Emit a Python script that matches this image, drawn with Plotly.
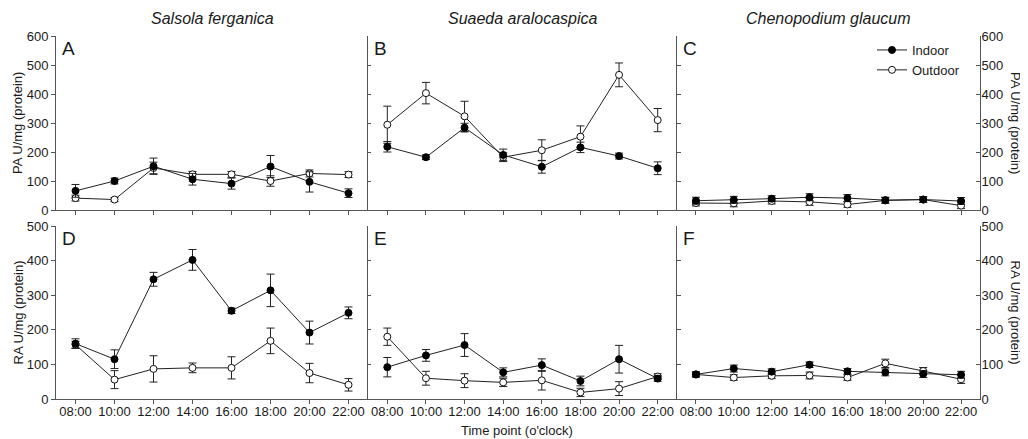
import plotly.graph_objects as go

times = ["08:00", "10:00", "12:00", "14:00", "16:00", "18:00", "20:00", "22:00"]

species = ["Salsola ferganica", "Suaeda aralocaspica", "Chenopodium glaucum"]
panel_letters = ["A", "B", "C", "D", "E", "F"]

# PA (top row)
pa_sf_in = [66, 100, 151, 106, 91, 150, 97, 58]
pa_sf_in_err = [22, 10, 28, 20, 19, 38, 35, 15]
pa_sf_out = [41, 36, 145, 123, 123, 100, 126, 122]
pa_sf_out_err = [10, 7, 20, 10, 10, 18, 12, 10]

pa_sa_in = [218, 182, 284, 190, 149, 216, 186, 144]
pa_sa_in_err = [18, 8, 15, 20, 22, 18, 10, 22]
pa_sa_out = [294, 403, 323, 182, 206, 253, 466, 310]
pa_sa_out_err = [64, 37, 52, 15, 36, 37, 41, 40]

pa_cg_in = [32, 35, 39, 44, 41, 34, 36, 31]
pa_cg_in_err = [12, 12, 10, 12, 12, 10, 10, 12]
pa_cg_out = [24, 23, 31, 28, 19, 33, 36, 15]
pa_cg_out_err = [10, 12, 10, 12, 10, 10, 10, 10]

# RA (bottom row)
ra_sf_in = [160, 115, 346, 402, 255, 314, 192, 249]
ra_sf_in_err = [14, 27, 20, 30, 8, 47, 33, 17]
ra_sf_out = [157, 56, 87, 90, 90, 168, 75, 41]
ra_sf_out_err = [10, 26, 38, 14, 32, 37, 28, 18]

ra_sa_in = [92, 126, 156, 77, 98, 52, 115, 59]
ra_sa_in_err = [28, 17, 33, 13, 18, 14, 40, 8]
ra_sa_out = [180, 60, 53, 48, 54, 19, 30, 65]
ra_sa_out_err = [25, 20, 20, 12, 28, 12, 20, 8]

ra_cg_in = [71, 88, 79, 99, 80, 77, 72, 70]
ra_cg_in_err = [8, 10, 8, 8, 8, 10, 10, 10]
ra_cg_out = [71, 62, 67, 68, 62, 103, 81, 57]
ra_cg_out_err = [6, 8, 8, 10, 8, 12, 10, 12]

panels = [
    (pa_sf_in, pa_sf_in_err, pa_sf_out, pa_sf_out_err),
    (pa_sa_in, pa_sa_in_err, pa_sa_out, pa_sa_out_err),
    (pa_cg_in, pa_cg_in_err, pa_cg_out, pa_cg_out_err),
    (ra_sf_in, ra_sf_in_err, ra_sf_out, ra_sf_out_err),
    (ra_sa_in, ra_sa_in_err, ra_sa_out, ra_sa_out_err),
    (ra_cg_in, ra_cg_in_err, ra_cg_out, ra_cg_out_err),
]

# page body has an 8px margin, so the figure is sized/offset to land on the window
OFF = 8
W, H = 1020, 431
FONT = "Liberation Sans, Arial, sans-serif"
AXC = "#555555"
TXT = "#1a1a1a"

xdom_px = [(56, 368), (368, 677), (677, 980)]
ydom_px = [(36, 210), (226, 399)]

def px_x(x):
    return (x - OFF) / W

def px_y(y):
    return 1 - (y - OFF) / H

def xd(p):
    return [px_x(p[0]), px_x(p[1])]

def yd(p):
    return [px_y(p[1]), px_y(p[0])]

fig = go.Figure()

for i, (yin, ein, yout, eout) in enumerate(panels):
    n = i + 1
    xa = "x" if n == 1 else f"x{n}"
    ya = "y" if n == 1 else f"y{n}"
    fig.add_trace(go.Scatter(
        x=times, y=yout, xaxis=xa, yaxis=ya, mode="lines+markers", name="Outdoor",
        legendrank=2, showlegend=(i == 2),
        line=dict(color="#222222", width=1),
        marker=dict(symbol="circle", size=7, color="white", line=dict(color="#111111", width=1)),
        error_y=dict(type="data", array=eout, visible=True, color="#222222", thickness=1, width=4),
    ))
    fig.add_trace(go.Scatter(
        x=times, y=yin, xaxis=xa, yaxis=ya, mode="lines+markers", name="Indoor",
        legendrank=1, showlegend=(i == 2),
        line=dict(color="#222222", width=1),
        marker=dict(symbol="circle", size=7, color="#000000", line=dict(color="#000000", width=1)),
        error_y=dict(type="data", array=ein, visible=True, color="#222222", thickness=1, width=4),
    ))

layout = dict(
    width=W, height=H,
    margin=dict(l=0, r=0, t=0, b=0, autoexpand=False),
    paper_bgcolor="white", plot_bgcolor="white",
    font=dict(family=FONT, size=13, color=TXT),
    legend=dict(x=px_x(872), y=px_y(35), xanchor="left", yanchor="top",
                bgcolor="rgba(0,0,0,0)", font=dict(size=13, family=FONT, color=TXT),
                tracegroupgap=0, itemwidth=30),
)

for i in range(6):
    n = i + 1
    row, col = divmod(i, 3)
    xk = "xaxis" if n == 1 else f"xaxis{n}"
    yk = "yaxis" if n == 1 else f"yaxis{n}"
    ya = "y" if n == 1 else f"y{n}"
    xa = "x" if n == 1 else f"x{n}"
    layout[xk] = dict(
        domain=xd(xdom_px[col]), anchor=ya, type="category",
        range=[-0.5, 7.5], tickvals=times, ticktext=times,
        showline=True, linecolor=AXC, linewidth=1,
        ticks="outside", ticklen=4, tickcolor=AXC, tickwidth=1,
        showgrid=False, zeroline=False, showticklabels=(row == 1),
        automargin=False, ticklabelstandoff=-4,
        tickfont=dict(size=13, family=FONT, color=TXT),
    )
    ymax = 600 if row == 0 else 500
    yax = dict(
        domain=yd(ydom_px[row]), anchor=xa, range=[0, ymax], dtick=100,
        showline=True, linecolor=AXC, linewidth=1,
        tickcolor=AXC, tickwidth=1, showgrid=False, zeroline=False,
        automargin=False,
        tickfont=dict(size=13, family=FONT, color=TXT),
    )
    if col == 0:
        yax.update(side="left", ticks="outside", ticklen=4, showticklabels=True)
    elif col == 1:
        yax.update(side="left", ticks="inside", ticklen=3, showticklabels=False)
    else:
        yax.update(side="right", ticks="inside", ticklen=4, showticklabels=True,
                   mirror="ticks", ticklabelstandoff=-2)
    layout[yk] = yax

annotations = []
for c, sp in enumerate(species):
    cx = px_x((xdom_px[c][0] + xdom_px[c][1]) / 2)
    annotations.append(dict(text=f"<i>{sp}</i>", x=cx, y=px_y(18), xref="paper", yref="paper",
                            xanchor="center", yanchor="middle", showarrow=False,
                            font=dict(size=16, family=FONT, color=TXT)))
for i, L in enumerate(panel_letters):
    row, col = divmod(i, 3)
    annotations.append(dict(text=L, x=px_x(xdom_px[col][0] + 4), y=px_y(ydom_px[row][0]),
                            xref="paper", yref="paper", xanchor="left", yanchor="top",
                            showarrow=False, font=dict(size=19, family=FONT, color=TXT)))
ylabels = ["PA U/mg (protein)", "RA U/mg (protein)"]
for r, lab in enumerate(ylabels):
    cy = px_y((ydom_px[r][0] + ydom_px[r][1]) / 2)
    annotations.append(dict(text=lab, x=px_x(18), y=cy, xref="paper", yref="paper",
                            xanchor="center", yanchor="middle", textangle=-90, showarrow=False,
                            font=dict(size=13, family=FONT, color=TXT)))
    annotations.append(dict(text=lab, x=px_x(1015), y=cy, xref="paper", yref="paper",
                            xanchor="center", yanchor="middle", textangle=90, showarrow=False,
                            font=dict(size=13, family=FONT, color=TXT)))
annotations.append(dict(text="Time point (o'clock)", x=px_x(517), y=px_y(430), xref="paper", yref="paper",
                        xanchor="center", yanchor="middle", showarrow=False,
                        font=dict(size=13, family=FONT, color=TXT)))
layout["annotations"] = annotations

fig.update_layout(**layout)
fig.write_html("out.html")
